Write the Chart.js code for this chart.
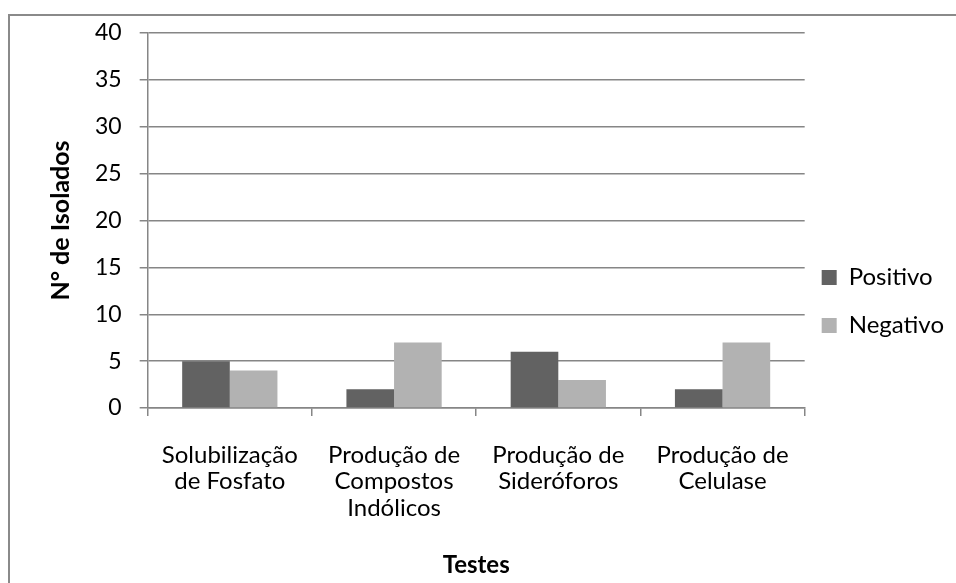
<!DOCTYPE html>
<html>
<head>
<meta charset="utf-8">
<script src="https://cdn.jsdelivr.net/npm/chart.js@4/dist/chart.umd.min.js"></script>
<style>
  html, body { margin: 0; padding: 0; background: #fff; }
  #frame {
    position: absolute; left: 8px; top: 14px; width: 960px; height: 600px;
    border-top: 2px solid #8a8a8a; border-left: 2px solid #8a8a8a;
  }
  #wrap { position: absolute; left: 0; top: 0; width: 956px; height: 583px; }
</style>
</head>
<body>
<div id="frame"></div>
<div id="wrap"><canvas id="grafico"></canvas></div>
<script>
// dados
const categorias = [
    ['Solubilização', 'de Fosfato'],
    ['Produção de', 'Compostos', 'Indólicos'],
    ['Produção de', 'Sideróforos'],
    ['Produção de', 'Celulase']
];
const positivo = [5, 2, 6, 2];
const negativo = [4, 7, 3, 7];

const fonte = 'Lato, "Open Sans", sans-serif';
const cinzaLinha = '#868686';

// ajusta a posição da legenda depois do layout (fica um pouco mais acima e à esquerda)
const ajusteLegenda = {
    id: 'ajusteLegenda',
    afterLayout(chart) {
        const lg = chart.legend;
        lg.top -= 5; lg.bottom -= 5;
        lg.left -= 7; lg.right -= 7;
    }
};

new Chart(document.getElementById('grafico'), {
    type: 'bar',
    data: {
        labels: categorias,
        datasets: [
            { label: 'Positivo', data: positivo, backgroundColor: '#626262', categoryPercentage: 0.58, barPercentage: 1 },
            { label: 'Negativo', data: negativo, backgroundColor: '#b2b2b2', categoryPercentage: 0.58, barPercentage: 1 }
        ]
    },
    plugins: [ajusteLegenda],
    options: {
        responsive: true,
        maintainAspectRatio: false,
        animation: false,
        layout: { padding: { top: 33, left: 46, right: -5, bottom: 3 } },
        plugins: {
            tooltip: { enabled: false },
            legend: {
                position: 'right',
                labels: {
                    color: '#000',
                    font: { family: fonte, size: 24 },
                    boxWidth: 15,
                    boxHeight: 15,
                    padding: 24
                }
            }
        },
        scales: {
            x: {
                grid: { offset: true, drawOnChartArea: false, drawTicks: true, tickLength: 8, color: cinzaLinha, lineWidth: 1.5 },
                border: { color: cinzaLinha, width: 1.5 },
                ticks: { color: '#000', font: { family: fonte, size: 24, lineHeight: 1.1 }, padding: 26, maxRotation: 0, autoSkip: false },
                title: { display: true, text: 'Testes', color: '#000', font: { family: fonte, size: 24, weight: 'bold' }, padding: { top: 4, bottom: 0 } }
            },
            y: {
                min: 0,
                max: 40,
                ticks: { stepSize: 5, color: '#000', font: { family: fonte, size: 23 }, padding: 18 },
                grid: { color: cinzaLinha, lineWidth: 1.5, tickLength: 8 },
                border: { color: cinzaLinha, width: 1.5 },
                title: { display: true, text: 'N° de Isolados', color: '#000', font: { family: fonte, size: 25, weight: 'bold' }, padding: { top: 0, bottom: 1 } }
            }
        }
    }
});
</script>
</body>
</html>
